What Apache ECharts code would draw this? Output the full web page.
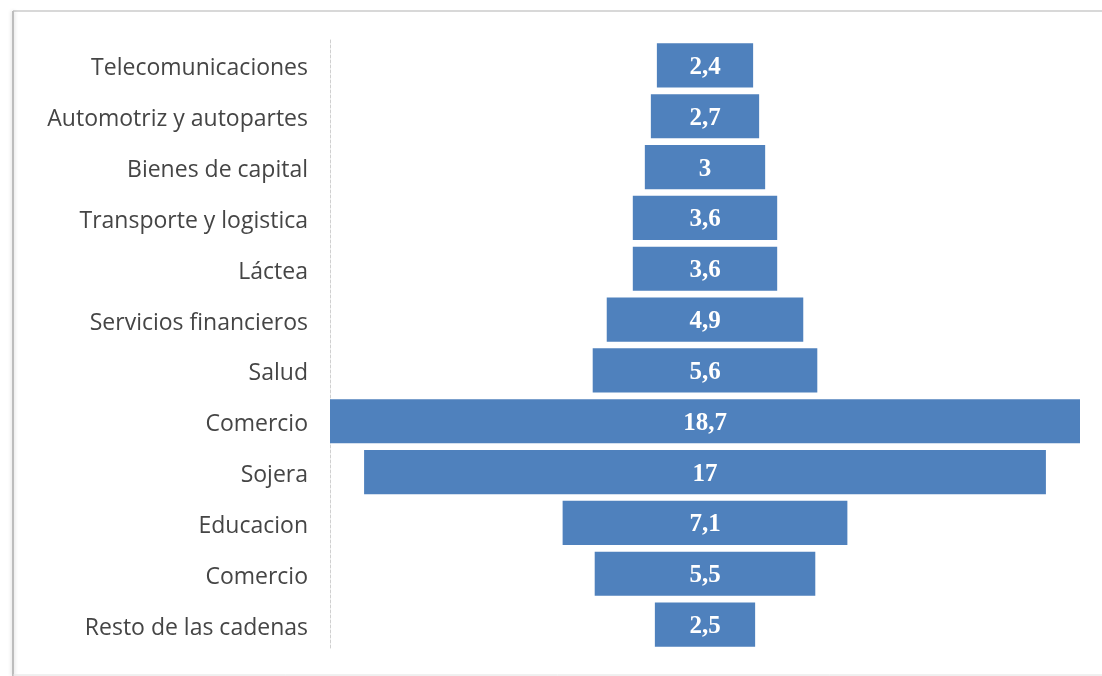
<!DOCTYPE html>
<html><head><meta charset="utf-8">
<script src="https://cdn.jsdelivr.net/npm/echarts@6/dist/echarts.min.js"></script>
<style>html,body{margin:0;padding:0;background:#fff}#c{width:1102px;height:676px}</style>
</head><body><div id="c"></div>
<script>
const categories = ["Telecomunicaciones","Automotriz y autopartes","Bienes de capital","Transporte y logistica","Láctea","Servicios financieros","Salud","Comercio","Sojera","Educacion","Comercio","Resto de las cadenas"];
const values = [2.4, 2.7, 3, 3.6, 3.6, 4.9, 5.6, 18.7, 17, 7.1, 5.5, 2.5];

const maxV = Math.max(...values);
const offsets = values.map(v => (maxV - v) / 2);
const chart = echarts.init(document.getElementById('c'));
chart.setOption({
  animation: false,
  grid: {left: 330, right: 22, top: 40, bottom: 26},
  xAxis: {type: 'value', min: 0, max: maxV, show: false},
  yAxis: {
    type: 'category', data: categories, inverse: true,
    axisLine: {show: true, lineStyle: {color: '#d0d0d0', type: [3, 2], width: 1}},
    axisTick: {show: false},
    axisLabel: {color: '#454545', fontFamily: 'Open Sans', fontSize: 23, margin: 22,
      formatter: v => '{a|' + v + '}',
      rich: {a: {color: '#454545', fontFamily: 'Open Sans', fontSize: 23, padding: [7, 0, 0, 0]}}}
  },
  series: [
    {type: 'bar', stack: 's', data: offsets, itemStyle: {color: 'transparent'}, silent: true, barCategoryGap: '13%'},
    {type: 'bar', stack: 's', data: values, barCategoryGap: '13%',
     itemStyle: {color: '#4F81BD'},
     label: {show: true, position: 'inside', color: '#ffffff', fontFamily: 'Liberation Serif', fontWeight: 'bold', fontSize: 25,
       offset: [0, 2],
       formatter: p => String(p.value).replace('.', ',')}}
  ],
  graphic: [
    {type: 'line', shape: {x1: 13, y1: 11, x2: 1102, y2: 11}, style: {stroke: '#d8d8d8', lineWidth: 2}},
    {type: 'line', shape: {x1: 13, y1: 11, x2: 13, y2: 676}, style: {stroke: '#bdbdbd', lineWidth: 2, shadowBlur: 4, shadowColor: 'rgba(0,0,0,0.2)'}},
    {type: 'line', shape: {x1: 13, y1: 675, x2: 1102, y2: 675}, style: {stroke: '#e0e0e0', lineWidth: 1}}
  ]
});
</script></body></html>
